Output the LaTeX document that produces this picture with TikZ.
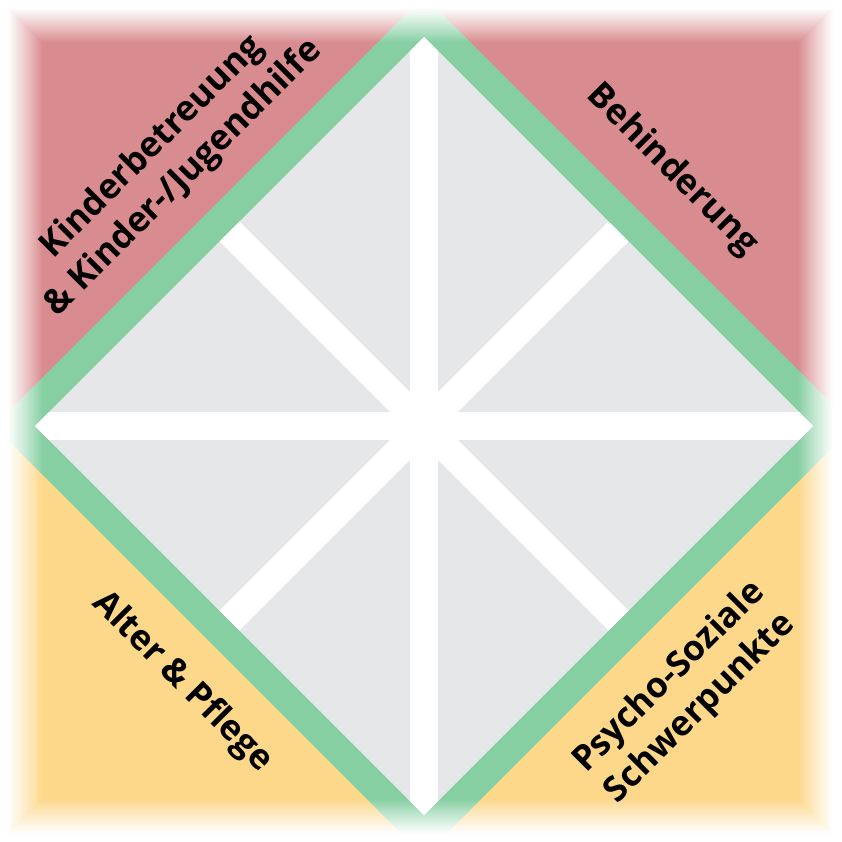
\documentclass[tikz,border=0pt]{standalone}
\usepackage{fontspec}
\setmainfont{Open Sans}
\usetikzlibrary{calc}
\definecolor{topred}{RGB}{217,140,143}
\definecolor{botyellow}{RGB}{253,216,139}
\definecolor{rimgreen}{RGB}{134,207,163}
\definecolor{fieldgrey}{RGB}{230,231,233}
\tikzset{
  lbl/.style={font=\bfseries\fontsize{35}{44}\selectfont, text=black, align=center, inner sep=0pt},
  spoke/.style={draw=white, line width=28pt, line cap=butt}
}
\begin{document}
\begin{tikzpicture}[x=1pt,y=-1pt]
\useasboundingbox (0,0) rectangle (841,842);
% background halves
\fill[topred] (0,0) rectangle (841,426);
\fill[botyellow] (0,426) rectangle (841,842);
% green rim diamond
\coordinate (c) at (424,426);
\fill[rimgreen] ($(c)+(0,-430)$) -- ($(c)+(430,0)$) -- ($(c)+(0,430)$) -- ($(c)+(-430,0)$) -- cycle;
% grey field
\fill[fieldgrey] ($(c)+(0,-389)$) -- ($(c)+(389,0)$) -- ($(c)+(0,389)$) -- ($(c)+(-389,0)$) -- cycle;
\begin{scope}
\clip ($(c)+(0,-389)$) -- ($(c)+(389,0)$) -- ($(c)+(0,389)$) -- ($(c)+(-389,0)$) -- cycle;
\coordinate (vt) at ($(c)+(0,-389)$);
\coordinate (vb) at ($(c)+(0,389)$);
\coordinate (vl) at ($(c)+(-389,0)$);
\coordinate (vr) at ($(c)+(389,0)$);
\coordinate (mtl) at ($(c)+(-194.5,-194.5)$);
\coordinate (mtr) at ($(c)+(194.5,-194.5)$);
\coordinate (mbl) at ($(c)+(-194.5,194.5)$);
\coordinate (mbr) at ($(c)+(194.5,194.5)$);
\draw[spoke] (vt) -- (vb);
\draw[spoke] (vl) -- (vr);
\draw[spoke] (mtl) -- (mbr);
\draw[spoke] (mtr) -- (mbl);
\end{scope}
% soft white edge
\fill[white, even odd rule] (-5,-5) rectangle (846,847) (8,8) rectangle (833,834);
\foreach \i in {0,...,34}{
  \pgfmathsetmacro{\op}{1-(\i+0.5)/35}
  \fill[white, fill opacity=\op, even odd rule]
    (8+\i,8+\i) rectangle (833-\i,834-\i)
    (9+\i,9+\i) rectangle (832-\i,833-\i);
}
% labels
\node[lbl, rotate=45] (kinder) at (168,163) {Kinderbetreuung\\\& Kinder-/Jugendhilfe};
\node[lbl, rotate=-45] (behind) at (672,170) {Behinderung};
\node[lbl, rotate=-45] (alter) at (182,682) {Alter \& Pflege};
\node[lbl, rotate=45] (psycho) at (685,693) {Psycho-Soziale\\Schwerpunkte};
\end{tikzpicture}
\end{document}
